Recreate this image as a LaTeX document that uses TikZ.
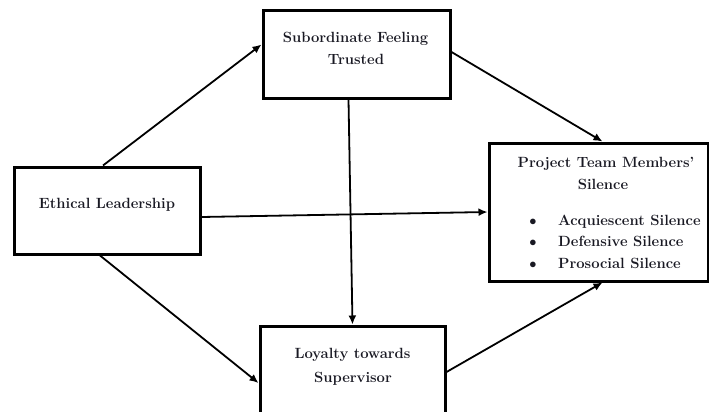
\documentclass[tikz,border=0pt]{standalone}
\usetikzlibrary{arrows.meta,calc}
\definecolor{txt}{RGB}{25,25,35}
\tikzset{
  box/.style={draw=black, line width=3pt, fill=white, inner sep=0pt},
  lbl/.style={text=txt, font=\bfseries\fontsize{14.8}{17}\selectfont, inner sep=0pt, anchor=base},
  conn/.style={draw=black, line width=1.8pt, -{Latex[length=9pt,width=8pt]}}
}
\begin{document}
\begin{tikzpicture}[x=1pt,y=-1pt]
\useasboundingbox (0,0) rectangle (709,412);
% boxes
\node[box, minimum width=187pt, minimum height=87pt] (T) at (356.5,54.5) {};
\node[box, minimum width=186pt, minimum height=87pt] (L) at (107,210.5) {};
\node[box, minimum width=219pt, minimum height=138pt] (R) at (598.5,212) {};
\node[box, minimum width=185pt, minimum height=92pt] (B) at (352.5,372) {};
% texts
\node[lbl] (t1) at (355.5,43) {Subordinate Feeling};
\node[lbl] (t2) at (356,65) {Trusted};
\node[lbl] (l1) at (107,208) {Ethical Leadership};
\node[lbl] (r1) at (606,167) {Project Team Members'};
\node[lbl] (r2) at (603,189) {Silence};
\node[lbl, anchor=base west] (r3) at (558,225) {Acquiescent Silence};
\node[lbl, anchor=base west] (r4) at (558,246) {Defensive Silence};
\node[lbl, anchor=base west] (r5) at (558,268) {Prosocial Silence};
\node[lbl] (b3) at (533,225) {$\bullet$};
\node[lbl] (b4) at (533,246) {$\bullet$};
\node[lbl] (b5) at (533,268) {$\bullet$};
\node[lbl] (d1) at (352.5,358) {Loyalty towards};
\node[lbl] (d2) at (353,382) {Supervisor};
% connectors
\draw[conn] ([xshift=-4pt]L.north) -- ([yshift=10pt]T.west);
\draw[conn] ([yshift=2.5pt]T.east) -- ([xshift=4pt]R.north);
\draw[conn] ([yshift=-6.5pt]L.east) -- (R.west);
\draw[conn] ([xshift=-8pt]T.south) -- (B.north);
\draw[conn] ([xshift=-7pt]L.south) -- ([yshift=-11pt]B.west);
\draw[conn] (B.east) -- ([xshift=4pt]R.south);
\end{tikzpicture}
\end{document}
